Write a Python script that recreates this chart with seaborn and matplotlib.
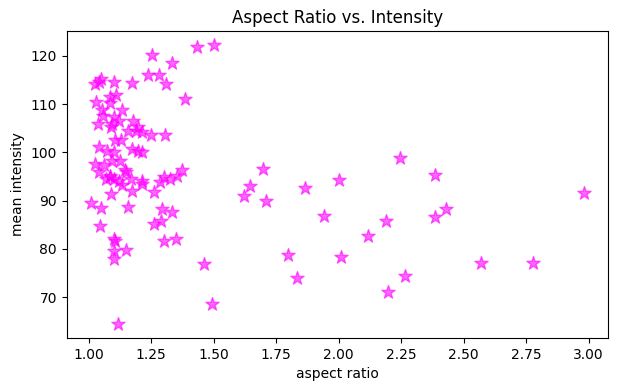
import pandas as pd
import seaborn as sns
import matplotlib
matplotlib.use('Agg')
import matplotlib.pyplot as plt

# aspect ratio / mean intensity per object
aspect_ratio = [
    1.502, 1.434, 1.255, 1.335, 1.236, 1.283, 1.309, 1.172, 1.103, 1.050, 1.026, 1.040,
    1.386, 1.028, 1.085, 1.087, 1.109,
    1.052, 1.135, 1.059, 1.100, 1.178, 1.036, 1.092, 1.120, 1.198, 1.158, 1.190, 1.249,
    1.306, 1.213, 1.090,
    1.040, 1.072, 1.105, 1.130, 1.172, 1.198, 1.100, 1.213,
    1.026, 1.060, 1.092, 1.125, 1.145, 1.085, 1.100, 1.170, 1.040, 1.150, 1.070, 1.087,
    1.373, 1.353, 1.300, 1.326, 1.286, 1.213, 1.133, 1.120,
    1.090, 1.173, 1.260, 1.213,
    1.011, 1.050, 1.156, 1.294, 1.333,
    1.047, 1.262, 1.289,
    1.100, 1.107, 1.300, 1.350,
    1.103, 1.149, 1.100, 1.117,
    1.462, 1.494, 1.623, 1.646, 1.699, 1.708, 1.797, 1.833, 1.866, 1.941, 2.001, 2.008,
    2.118, 2.190, 2.199, 2.244, 2.267, 2.385, 2.385, 2.428, 2.570, 2.779, 2.980,
]
mean_intensity = [
    122.3, 121.8, 120.3, 118.5, 116.1, 116.0, 114.1, 114.4, 114.7, 115.2, 114.2, 114.6,
    111.0, 110.4, 110.3, 111.4, 112.0,
    108.7, 108.7, 107.6, 107.3, 106.6, 105.9, 105.9, 106.5, 105.2, 104.5, 104.5, 103.7,
    103.7, 104.2, 105.2,
    101.1, 100.4, 102.5, 102.5, 100.7, 100.4, 100.0, 100.0,
    97.6, 97.3, 98.3, 98.3, 96.3, 95.2, 94.6, 94.4, 95.9, 96.0, 94.5, 94.9,
    96.4, 95.2, 95.0, 94.5, 93.8, 94.0, 93.2, 94.0,
    91.4, 92.1, 91.9, 93.4,
    89.6, 88.4, 88.7, 88.2, 87.6,
    84.8, 85.2, 85.9,
    82.1, 81.6, 81.6, 82.1,
    79.5, 79.7, 77.9, 64.4,
    76.8, 68.5, 90.9, 93.1, 96.6, 90.0, 78.7, 73.9, 92.7, 86.9, 94.3, 78.4,
    82.6, 85.8, 71.0, 98.9, 74.5, 95.4, 86.7, 88.2, 77.1, 77.1, 91.6,
]

df = pd.DataFrame({'aspect ratio': aspect_ratio, 'mean intensity': mean_intensity})

fig, ax = plt.subplots(figsize=(6.18, 3.91), dpi=100)
sns.scatterplot(
    data=df,
    x='aspect ratio',
    y='mean intensity',
    marker='*',
    s=100,
    color='magenta',
    edgecolor='magenta',
    linewidth=1,
    alpha=0.6,
    ax=ax,
)
ax.set_title('Aspect Ratio vs. Intensity')
plt.subplots_adjust(left=0.108, right=0.984, top=0.921, bottom=0.135)
plt.savefig('out.png', dpi=100)
